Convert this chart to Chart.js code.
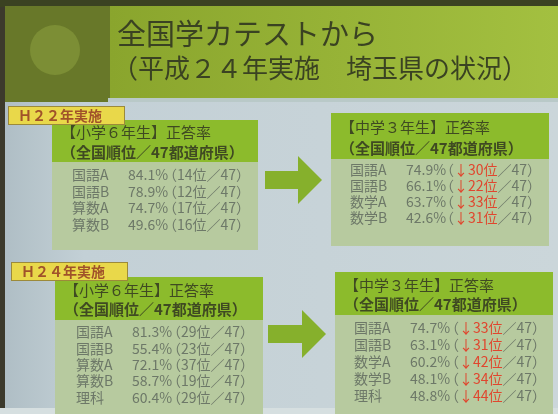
<!DOCTYPE html>
<html><head><meta charset="utf-8">
<script src="https://cdn.jsdelivr.net/npm/chart.js@4/dist/chart.umd.min.js"></script>
<style>html,body{margin:0;padding:0;background:#c4d0d6;}canvas{display:block;}</style>
</head><body>
<canvas id="c" width="558" height="414"></canvas>
<script>
// ---- data ----
const titleLine1 = '全国学カテストから';
const titleLine2 = '（平成２４年実施　埼玉県の状況）';
const yearLabels = ['Ｈ２２年実施', 'Ｈ２４年実施'];
const elemHeader = '【小学６年生】正答率';
const juniorHeader = '【中学３年生】正答率';
const subHeader = '（全国順位／47都道府県）';

const elem22Subjects = ['国語A', '国語B', '算数A', '算数B'];
const elem22Rates = [84.1, 78.9, 74.7, 49.6];
const elem22Ranks = [14, 12, 17, 16];

const jr22Subjects = ['国語A', '国語B', '数学A', '数学B'];
const jr22Rates = [74.9, 66.1, 63.7, 42.6];
const jr22Ranks = [30, 22, 33, 31];

const elem24Subjects = ['国語A', '国語B', '算数A', '算数B', '理科'];
const elem24Rates = [81.3, 55.4, 72.1, 58.7, 60.4];
const elem24Ranks = [29, 23, 37, 19, 29];

const jr24Subjects = ['国語A', '国語B', '数学A', '数学B', '理科'];
const jr24Rates = [74.7, 63.1, 60.2, 48.1, 48.8];
const jr24Ranks = [33, 31, 42, 34, 44];

const prefCount = 47;

// ---- layout ----
const FONT = '"Noto Sans CJK JP", "Noto Sans", sans-serif';
const tables = [
  {x:52, y:120, w:206, hh:42, bh:88, rows0:175, step:16.5, sx:72, px:128, rx:163, head:elemHeader, subj:elem22Subjects, rate:elem22Rates, rank:elem22Ranks, down:false},
  {x:331, y:113, w:218, hh:46, bh:87, rows0:170, step:16, sx:350, px:406, rx:440, head:juniorHeader, subj:jr22Subjects, rate:jr22Rates, rank:jr22Ranks, down:true},
  {x:55, y:277, w:208, hh:43, bh:134, rows0:332, step:16.3, sx:76, px:132, rx:167, head:elemHeader, subj:elem24Subjects, rate:elem24Rates, rank:elem24Ranks, down:false},
  {x:335, y:272, w:218, hh:43, bh:138, rows0:328, step:16.8, sx:354, px:410, rx:445, head:juniorHeader, subj:jr24Subjects, rate:jr24Rates, rank:jr24Ranks, down:true}
];

const slidePlugin = {
  id: 'slide',
  beforeDraw(chart) {
    const ctx = chart.ctx, W = chart.width, H = chart.height;
    ctx.save();
    // lower background
    let g = ctx.createLinearGradient(0, 0, W, 0);
    g.addColorStop(0, '#aebdc4'); g.addColorStop(0.15, '#c3d0d6'); g.addColorStop(1, '#cbd6da');
    ctx.fillStyle = g; ctx.fillRect(0, 0, W, H);
    ctx.fillStyle = '#3c3a2c'; ctx.fillRect(0, 0, 5, H);
    ctx.fillStyle = '#d6dfe0'; ctx.fillRect(0, 408, W, 6);
    // top band
    ctx.fillStyle = '#3b4222'; ctx.fillRect(0, 0, W, 7);
    g = ctx.createLinearGradient(110, 0, W, 0);
    g.addColorStop(0, '#8aa52d'); g.addColorStop(1, '#a3c040');
    ctx.fillStyle = g; ctx.fillRect(108, 6, W - 108, 96);
    ctx.fillStyle = '#687829'; ctx.fillRect(5, 6, 105, 96);
    ctx.fillStyle = '#7c8e35';
    ctx.beginPath(); ctx.arc(55, 50, 25, 0, Math.PI * 2); ctx.fill();
    ctx.fillStyle = '#b9c9c8'; ctx.fillRect(108, 98, W - 108, 4);
    // title
    ctx.fillStyle = '#3a4222';
    ctx.textBaseline = 'alphabetic';
    ctx.font = '29px ' + FONT;
    ctx.fillText(titleLine1, 117, 45);
    ctx.font = '26px ' + FONT;
    ctx.fillText(titleLine2, 112, 78);
    // arrows
    [[265, 180, 322], [268, 334, 326]].forEach(([x0, cy, tip]) => {
      ctx.fillStyle = '#86b02c';
      ctx.beginPath();
      ctx.moveTo(x0, cy - 9); ctx.lineTo(tip - 24, cy - 9); ctx.lineTo(tip - 24, cy - 24);
      ctx.lineTo(tip, cy); ctx.lineTo(tip - 24, cy + 24); ctx.lineTo(tip - 24, cy + 9);
      ctx.lineTo(x0, cy + 9); ctx.closePath(); ctx.fill();
    });
    // tables
    tables.forEach(t => {
      ctx.fillStyle = '#b7ca9f'; ctx.fillRect(t.x, t.y + t.hh, t.w, t.bh);
      ctx.fillStyle = '#8cbb2c'; ctx.fillRect(t.x, t.y, t.w, t.hh);
      ctx.fillStyle = '#3f4a22'; ctx.textBaseline = 'middle';
      ctx.font = '15px ' + FONT;
      ctx.fillText(t.head, t.x + 9, t.y + t.hh * 0.3);
      ctx.font = 'bold 15px ' + FONT;
      ctx.fillText(subHeader, t.x + 9, t.y + t.hh * 0.76);
      ctx.font = '14px ' + FONT;
      t.subj.forEach((s, i) => {
        const y = t.rows0 + i * t.step;
        ctx.fillStyle = '#6d7868';
        ctx.fillText(s, t.sx, y);
        ctx.fillText(t.rate[i].toFixed(1) + '%', t.px, y);
        let x = t.rx;
        ctx.fillText('（', x, y); x += ctx.measureText('（').width;
        const rk = (t.down ? '↓' : '') + t.rank[i] + '位';
        if (t.down) ctx.fillStyle = '#e0462e';
        ctx.fillText(rk, x, y); x += ctx.measureText(rk).width;
        ctx.fillStyle = '#6d7868';
        ctx.fillText('／' + prefCount + '）', x, y);
      });
    });
    // year labels (on top of tables)
    [[8, 106, yearLabels[0]], [11, 262, yearLabels[1]]].forEach(([x, y, t]) => {
      ctx.fillStyle = '#e9d84a'; ctx.fillRect(x, y, 117, 19);
      ctx.strokeStyle = '#9c8a3a'; ctx.lineWidth = 1; ctx.strokeRect(x + 0.5, y + 0.5, 116, 18);
      ctx.fillStyle = '#a0522a'; ctx.font = 'bold 14px ' + FONT;
      ctx.textBaseline = 'middle'; ctx.fillText(t, x + 10, y + 10);
    });
    ctx.restore();
  }
};

new Chart(document.getElementById('c'), {
  type: 'bar',
  data: { labels: [], datasets: [] },
  options: {
    responsive: false, animation: false,
    plugins: { legend: { display: false }, tooltip: { enabled: false } },
    scales: { x: { display: false }, y: { display: false } }
  },
  plugins: [slidePlugin]
});
</script>
</body></html>
